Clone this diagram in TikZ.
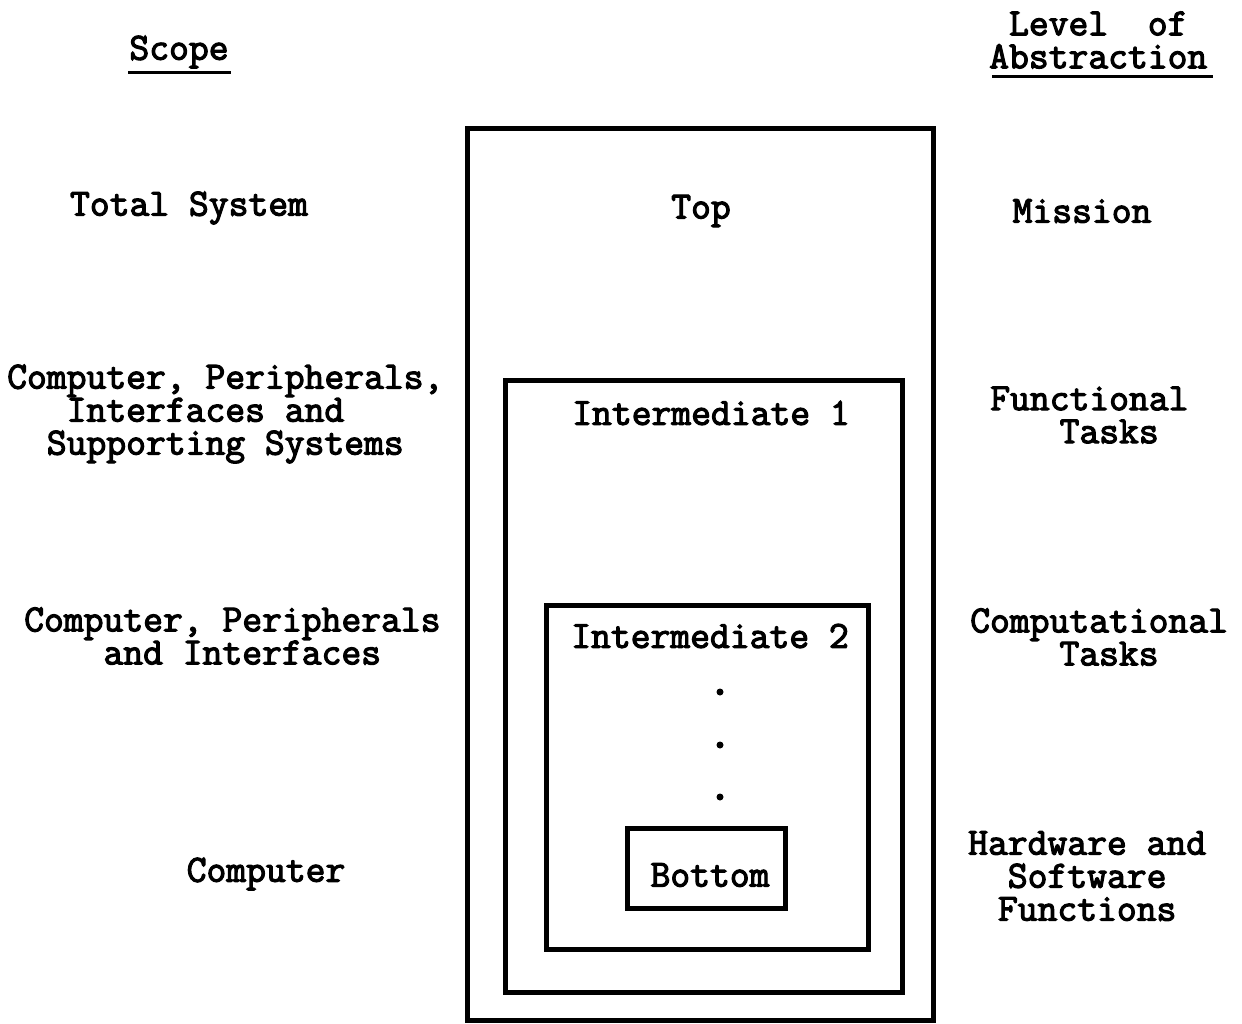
\documentclass[tikz,border=0pt]{standalone}
\usepackage{fontspec}
\newfontfamily\twfont{Latin Modern Mono}[FakeBold=3]
\newcommand\col[1]{\hspace*{#1\fontcharwd\font`x}}
\begin{document}
\begin{tikzpicture}[x=1pt,y=-1pt,
  lbl/.style={inner sep=0pt,font=\twfont\fontsize{38.5}{33}\selectfont},
  lblL/.style={lbl,align=left,anchor=west},
  box/.style={draw,line width=5pt},
  uline/.style={line width=3pt}]
\useasboundingbox (0,0) rectangle (1242,1023);
% boxes
\draw[box] (467,128) rectangle (933,1020);
\draw[box] (505,380) rectangle (902,992);
\draw[box] (546,605) rectangle (868,949);
\draw[box] (627,828) rectangle (785,908);
% headings
\node[lbl] (scope) at (179,52) {Scope};
\draw[uline] (128,72) -- (231,72);
\node[lblL] (abs) at (989,40) {\col{1}Level\ \ of\\Abstraction};
\draw[uline] (992,76) -- (1213,76);
% row 1
\node[lbl] (ts) at (189,208) {Total System};
\node[lbl] (top) at (701,211) {Top};
\node[lbl] (mis) at (1082,211) {Mission};
% row 2
\node[lblL] (c1) at (7,414) {Computer, Peripherals,\\\col{3}Interfaces and\\\col{2}Supporting Systems};
\node[lbl] (im1) at (711,413) {Intermediate 1};
\node[lblL] (ft) at (990,415) {Functional\\\col{3.5}Tasks};
% row 3
\node[lblL] (c2) at (24,636) {Computer, Peripherals\\\col{4}and Interfaces};
\node[lbl] (im2) at (710,636) {Intermediate 2};
\node[lblL] (ct) at (970,637) {Computational\\\col{4.5}Tasks};
% dots
\fill (720,692) circle (3.5);
\fill (720,745) circle (3.5);
\fill (720,797) circle (3.5);
% row 4
\node[lbl] (cmp) at (266,874) {Computer};
\node[lbl] (bot) at (710,875) {Bottom};
\node[lblL] (hw) at (968,876) {Hardware and\\\col{2}Software\\\col{1.5}Functions};
\end{tikzpicture}
\end{document}
